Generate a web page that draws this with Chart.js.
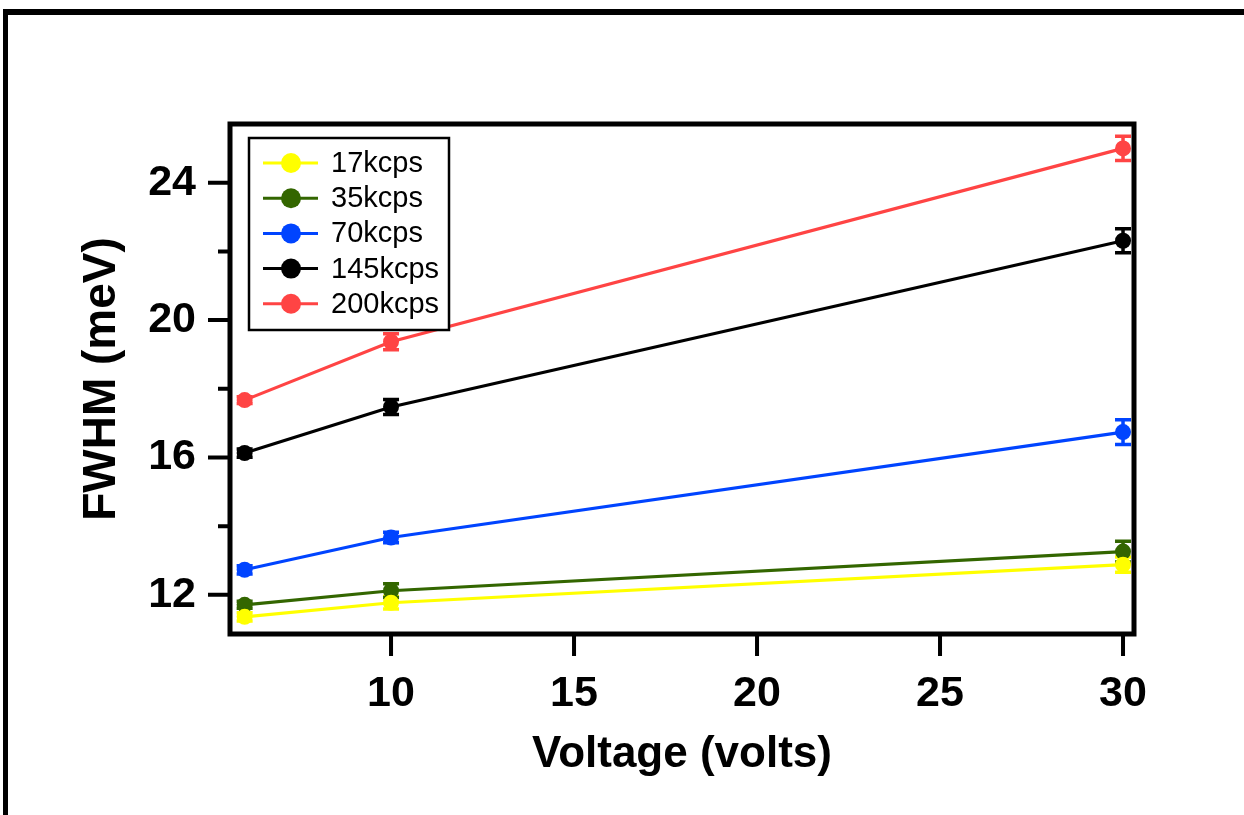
<!DOCTYPE html>
<html>
<head>
<meta charset="utf-8">
<title>FWHM vs Voltage</title>
<script src="https://cdn.jsdelivr.net/npm/chart.js@4.4.1/dist/chart.umd.min.js"></script>
<style>
    html, body { margin: 0; padding: 0; background: #fff; }
    #frame {
        position: absolute; left: 3px; top: 9px;
        width: 1300px; height: 900px;
        border-top: 6px solid #000; border-left: 5px solid #000;
    }
    #wrap { position: absolute; left: 0; top: 0; width: 1244px; height: 815px; }
</style>
</head>
<body>
<div id="frame"></div>
<div id="wrap"><canvas id="fwhmChart"></canvas></div>
<script>
// 测量数据
const voltages = [6, 10, 30];
const seriesLabels = ['17kcps', '35kcps', '70kcps', '145kcps', '200kcps'];
const seriesColors = ['#ffff00', '#336600', '#0044ff', '#000000', '#ff4444'];

const fwhm17 = [11.36, 11.77, 12.88];
const fwhm35 = [11.71, 12.12, 13.26];
const fwhm70 = [12.73, 13.67, 16.74];
const fwhm145 = [16.13, 17.47, 22.31];
const fwhm200 = [17.67, 19.37, 25.00];

const err17 = [0.12, 0.18, 0.22];
const err35 = [0.10, 0.20, 0.30];
const err70 = [0.12, 0.15, 0.36];
const err145 = [0.12, 0.22, 0.35];
const err200 = [0.10, 0.23, 0.35];

const xTickLabels = [10, 15, 20, 25, 30];
const yTickLabels = [12, 16, 20, 24];
const yMinorTicks = [14, 18, 22];

const seriesValues = [fwhm17, fwhm35, fwhm70, fwhm145, fwhm200];
const seriesErrors = [err17, err35, err70, err145, err200];

const FONT = "'Liberation Sans', Arial, sans-serif";

// 误差棒
const errorBars = {
    id: 'errorBars',
    beforeDatasetsDraw(chart) {
        const { ctx, scales: { x, y } } = chart;
        ctx.save();
        ctx.lineWidth = 3.5;
        chart.data.datasets.forEach((ds, i) => {
            const errs = seriesErrors[i];
            ctx.strokeStyle = ds.borderColor;
            ds.data.forEach((p, j) => {
                const px = x.getPixelForValue(p.x);
                const top = y.getPixelForValue(p.y + errs[j]);
                const bot = y.getPixelForValue(p.y - errs[j]);
                ctx.beginPath();
                ctx.moveTo(px, top); ctx.lineTo(px, bot);
                ctx.moveTo(px - 8, top); ctx.lineTo(px + 8, top);
                ctx.moveTo(px - 8, bot); ctx.lineTo(px + 8, bot);
                ctx.stroke();
            });
        });
        ctx.restore();
    }
};

// 坐标框、刻度线和图例
const frameAndLegend = {
    id: 'frameAndLegend',
    afterDraw(chart) {
        const { ctx, chartArea: a, scales: { x, y } } = chart;
        ctx.save();
        ctx.strokeStyle = '#000';
        ctx.lineWidth = 4;
        ctx.beginPath();
        xTickLabels.forEach(v => {
            const px = x.getPixelForValue(v);
            ctx.moveTo(px, a.bottom); ctx.lineTo(px, a.bottom + 22);
        });
        yTickLabels.forEach(v => {
            const py = y.getPixelForValue(v);
            ctx.moveTo(a.left - 22, py); ctx.lineTo(a.left, py);
        });
        yMinorTicks.forEach(v => {
            const py = y.getPixelForValue(v);
            ctx.moveTo(a.left - 12, py); ctx.lineTo(a.left, py);
        });
        ctx.stroke();
        ctx.lineWidth = 5;
        ctx.strokeRect(a.left, a.top, a.right - a.left, a.bottom - a.top);

        // 图例框
        const lx = a.left + 19, ly = a.top + 14, lw = 200, lh = 192;
        ctx.fillStyle = '#fff';
        ctx.fillRect(lx, ly, lw, lh);
        ctx.lineWidth = 2.5;
        ctx.strokeRect(lx, ly, lw, lh);
        ctx.font = '29px ' + FONT;
        ctx.textBaseline = 'middle';
        chart.data.datasets.forEach((ds, i) => {
            const ry = ly + 25 + i * 35.2;
            ctx.strokeStyle = ds.borderColor;
            ctx.lineWidth = 3;
            ctx.beginPath();
            ctx.moveTo(lx + 14, ry); ctx.lineTo(lx + 69, ry);
            ctx.stroke();
            ctx.fillStyle = ds.borderColor;
            ctx.beginPath();
            ctx.arc(lx + 42, ry, 10, 0, Math.PI * 2);
            ctx.fill();
            ctx.fillStyle = '#000';
            ctx.fillText(ds.label, lx + 82, ry + 1);
        });
        ctx.restore();
    }
};

document.addEventListener('DOMContentLoaded', () => {
    const ctx = document.getElementById('fwhmChart').getContext('2d');

    const datasets = seriesLabels.map((label, i) => ({
        label: label,
        data: voltages.map((v, j) => ({ x: v, y: seriesValues[i][j] })),
        borderColor: seriesColors[i],
        backgroundColor: seriesColors[i],
        pointBackgroundColor: seriesColors[i],
        pointBorderWidth: 0,
        pointRadius: 8,
        borderWidth: 3.2,
        showLine: true,
        fill: false
    }));

    new Chart(ctx, {
        type: 'scatter',
        data: { datasets },
        plugins: [errorBars, frameAndLegend],
        options: {
            responsive: true,
            maintainAspectRatio: false,
            animation: false,
            layout: { padding: { left: 75, right: 110, top: 124, bottom: 34 } },
            scales: {
                x: {
                    type: 'linear',
                    min: 5.6,
                    max: 30.3,
                    afterFit: s => { s.height = 147; },
                    afterBuildTicks: s => { s.ticks = xTickLabels.map(v => ({ value: v })); },
                    grid: { drawOnChartArea: false, drawTicks: true, tickLength: 22, color: 'rgba(0,0,0,0)' },
                    border: { display: false },
                    ticks: {
                        padding: 12,
                        color: '#000',
                        font: { family: FONT, size: 43, weight: 'bold' },
                        maxRotation: 0
                    },
                    title: {
                        display: true,
                        text: 'Voltage (volts)',
                        color: '#000',
                        padding: 0,
                        font: { family: FONT, size: 44, weight: 'bold' }
                    }
                },
                y: {
                    type: 'linear',
                    min: 10.86,
                    max: 25.71,
                    afterFit: s => { s.width = 155; },
                    afterBuildTicks: s => { s.ticks = yTickLabels.map(v => ({ value: v })); },
                    grid: { drawOnChartArea: false, drawTicks: true, tickLength: 22, color: 'rgba(0,0,0,0)' },
                    border: { display: false },
                    ticks: {
                        padding: 12,
                        color: '#000',
                        font: { family: FONT, size: 43, weight: 'bold' }
                    },
                    title: {
                        display: true,
                        text: 'FWHM (meV)',
                        color: '#000',
                        padding: 0,
                        font: { family: FONT, size: 46, weight: 'bold' }
                    }
                }
            },
            plugins: {
                legend: { display: false },
                tooltip: { enabled: false }
            }
        }
    });
});
</script>
</body>
</html>
